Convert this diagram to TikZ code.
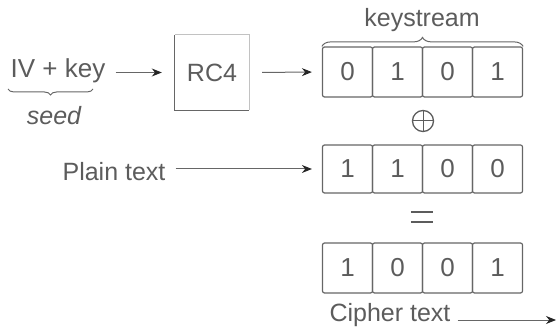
\documentclass[tikz,border=0pt]{standalone}
\usepackage{fontspec}
\setmainfont{Liberation Sans}
\usetikzlibrary{arrows.meta,decorations.pathreplacing}

\definecolor{ink}{gray}{0.36}
\definecolor{rule}{gray}{0.40}
\definecolor{tip}{gray}{0.15}

\tikzset{
  lbl/.style={inner sep=0pt, text=ink, font=\fontsize{25}{28}\selectfont},
  bit/.style={draw=rule, line width=1.2pt, rounded corners=2pt,
              minimum width=50pt, minimum height=50pt, inner sep=0pt,
              text=ink, font=\fontsize{26}{28}\selectfont},
  flow/.style={draw=rule, line width=1pt,
               -{Stealth[length=10pt,width=8pt,color=tip]}},
  curly/.style={draw=rule, line width=1pt, decorate},
  opsign/.style={draw=ink, line width=1.3pt}
}

\begin{document}
\begin{tikzpicture}[x=1pt,y=-1pt]
  \useasboundingbox (0,0) rectangle (557,331);

  % input and generator
  \node[lbl, font=\fontsize{26}{28}\selectfont] (ivkey) at (58,71) {IV + key};
  \node[lbl, font=\fontsize{25}{28}\selectfont\itshape] (seed) at (54,116) {seed};
  \draw[curly, decoration={brace, amplitude=6pt}] (93,89) -- (8,89);

  \node[minimum width=74pt, minimum height=75pt, inner sep=0pt] (rc4) at (212,72.5) {};
  \draw[draw=rule!40, line width=0.8pt] (rc4.north west) -- (rc4.north east) -- (rc4.south east);
  \draw[draw=rule, line width=1pt] (rc4.north west) -- (rc4.south west) -- (rc4.south east);
  \node[lbl] (rc4txt) at (rc4.center) {RC4};

  % keystream row
  \foreach \v [count=\i] in {0,1,0,1}
    \node[bit] (k\i) at (297.5+50*\i,72) {\v};
  \node[lbl] (ks) at (422,20) {keystream};
  \draw[curly, decoration={brace, amplitude=9pt}] (k1.north west) -- (k4.north east);

  % plain text row
  \foreach \v [count=\i] in {1,1,0,0}
    \node[bit, minimum height=48pt] (p\i) at (297.5+50*\i,169) {\v};
  \node[lbl] (plain) at (114,172) {Plain text};

  % cipher text row
  \foreach \v [count=\i] in {1,0,0,1}
    \node[bit] (c\i) at (297.5+50*\i,268) {\v};
  \node[lbl] (cipher) at (390,315) {Cipher text};
  \coordinate (out) at (556,320);

  % operators: exclusive or, then equals
  \node[circle, opsign, minimum size=21pt, inner sep=0pt] (xor) at (423,121) {};
  \draw[opsign, line width=1pt] (xor.north) -- (xor.south) (xor.west) -- (xor.east);
  \node[minimum width=22pt, minimum height=9pt, inner sep=0pt] (eq) at (422,217) {};
  \draw[opsign, line width=2pt] (eq.north west) -- (eq.north east) (eq.south west) -- (eq.south east);

  % connectors
  \draw[flow, shorten <=10pt, shorten >=13pt] (ivkey.east |- rc4.center) -- (rc4.west);
  \draw[flow, shorten <=13pt, shorten >=10pt] (rc4.east) -- (k1.west);
  \draw[flow, shorten <=10pt, shorten >=10pt] (plain.east |- p1.west) -- (p1.west);
  \draw[flow, shorten <=7pt] (cipher.east |- out) -- (out);
\end{tikzpicture}
\end{document}
